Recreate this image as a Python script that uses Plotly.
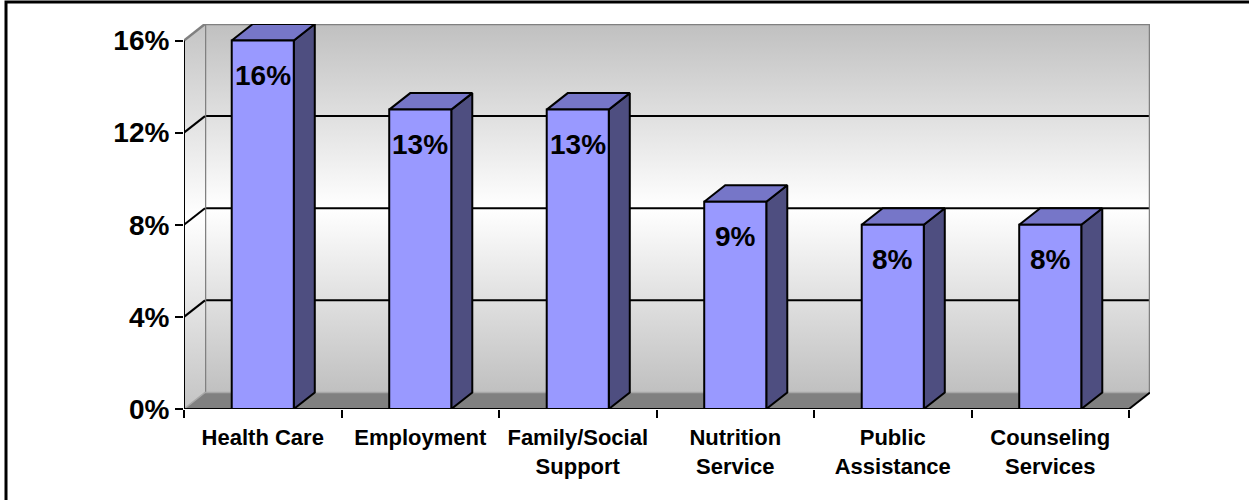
import plotly.graph_objects as go

# Survey shares by service type (percent of respondents)
categories = ["Health Care", "Employment", "Family/Social<br>Support",
              "Nutrition<br>Service", "Public<br>Assistance", "Counseling<br>Services"]
shares = [16, 13, 13, 9, 8, 8]
y_tick_values = [0, 4, 8, 12, 16]
y_tick_labels = ["0%", "4%", "8%", "12%", "16%"]

# Pseudo-3D geometry, in axis units
N = len(categories)
Y_MAX = 16
DX = 21 / 157.5          # depth offset along x (category units)
DY = 16.5 / 23.0         # depth offset along y (percent units)
BAR_W = 0.394            # front-face width of a column

FRONT = "#9999FF"
SIDE = "#4E4E80"
TOP = "#7676C8"
WALL_EDGE = "#808080"
FLOOR = "#808080"
FONT = "Arial, 'Liberation Sans', sans-serif"

wall_gradient = dict(type="vertical",
                     colorscale=[[0, "#C0C0C0"], [0.5, "#FFFFFF"], [1, "#C0C0C0"]],
                     start=DY, stop=Y_MAX + DY)

fig = go.Figure()


def poly(xs, ys, **kw):
    fig.add_trace(go.Scatter(x=xs, y=ys, mode="lines", hoverinfo="skip",
                             showlegend=False, cliponaxis=False, **kw))


# back wall
poly([DX, N + DX, N + DX, DX, DX], [DY, DY, Y_MAX + DY, Y_MAX + DY, DY],
     fill="toself", fillgradient=wall_gradient, line=dict(width=0))
# back-wall gridlines
gx, gy = [], []
for g in y_tick_values[1:-1]:
    gx += [DX, N + DX, None]
    gy += [g + DY, g + DY, None]
poly(gx, gy, line=dict(color="black", width=2))
# back-wall frame
poly([DX, DX, N + DX, N + DX], [DY, Y_MAX + DY, Y_MAX + DY, DY],
     line=dict(color=WALL_EDGE, width=2.5))

# left side wall
poly([0, 0, DX, DX, 0], [0, Y_MAX, Y_MAX + DY, DY, 0],
     fill="toself", fillgradient=dict(type="vertical",
                                      colorscale=[[0, "#C4C4C4"], [0.5, "#FFFFFF"], [1, "#C4C4C4"]],
                                      start=0, stop=Y_MAX + DY),
     line=dict(width=0))
# slanted gridlines on the side wall
sx, sy = [], []
for g in y_tick_values[1:-1]:
    sx += [0, DX, None]
    sy += [g, g + DY, None]
poly(sx, sy, line=dict(color="black", width=2))
poly([0, DX], [Y_MAX, Y_MAX + DY], line=dict(color=WALL_EDGE, width=2.5))

# floor
poly([0, N, N + DX, DX, 0], [0, 0, DY, DY, 0],
     fill="toself", fillcolor=FLOOR, line=dict(width=0))
poly([0, DX, N + DX], [0, DY, DY], line=dict(color="#A8A8A8", width=1.5))
poly([N, N + DX], [0, DY], line=dict(color="black", width=2))

# columns: front, side and top faces built from the share values
fx, fy, sdx, sdy, tx, ty = [], [], [], [], [], []
for i, v in enumerate(shares):
    c = i + 0.5
    l, r = c - BAR_W / 2, c + BAR_W / 2
    fx += [l, r, r, l, l, None]
    fy += [0, 0, v, v, 0, None]
    sdx += [r, r + DX, r + DX, r, r, None]
    sdy += [0, DY, v + DY, v, 0, None]
    tx += [l, r, r + DX, l + DX, l, None]
    ty += [v, v, v + DY, v + DY, v, None]
poly(sdx, sdy, fill="toself", fillcolor=SIDE, line=dict(color="black", width=2))
poly(tx, ty, fill="toself", fillcolor=TOP, line=dict(color="black", width=2))
poly(fx, fy, fill="toself", fillcolor=FRONT, line=dict(color="black", width=2))

# front axis lines
poly([0, 0, N], [Y_MAX, 0, 0], line=dict(color="black", width=2))

# value labels inside the columns
for i, v in enumerate(shares):
    fig.add_annotation(x=i + 0.5, y=v, yshift=-35, text=f"{v}%", showarrow=False,
                       xanchor="center", yanchor="middle",
                       font=dict(family=FONT, size=28, color="black", weight="bold"))

# outer frame
fig.add_shape(type="rect", xref="paper", yref="paper",
              x0=(6 - 184) / 966, x1=(1270 - 184) / 966,
              y0=(409 - 520) / 385, y1=(409 - 2) / 385,
              line=dict(color="black", width=3), fillcolor="rgba(0,0,0,0)", layer="above")

fig.update_layout(
    width=1249, height=500,
    margin=dict(l=184, r=99, t=24, b=91, pad=0),
    paper_bgcolor="white", plot_bgcolor="rgba(0,0,0,0)",
    showlegend=False,
    xaxis=dict(range=[0, N + DX], showgrid=False, zeroline=False, showline=False,
               tickmode="array", tickvals=[i + 0.5 for i in range(N)], ticktext=categories,
               ticks="", ticklabelstandoff=13,
               tickfont=dict(family=FONT, size=22, color="black", weight="bold"),
               minor=dict(tickmode="array", tickvals=list(range(N + 1)), ticks="outside",
                          ticklen=8, tickwidth=2, tickcolor="black", showgrid=False),
               fixedrange=True),
    yaxis=dict(range=[0, Y_MAX + DY], showgrid=False, zeroline=False, showline=False,
               tickmode="array", tickvals=y_tick_values, ticktext=y_tick_labels,
               ticks="outside", ticklen=8, tickwidth=2, tickcolor="black",
               tickfont=dict(family=FONT, size=28, color="black", weight="bold"),
               fixedrange=True),
)

fig.write_html("out.html")
